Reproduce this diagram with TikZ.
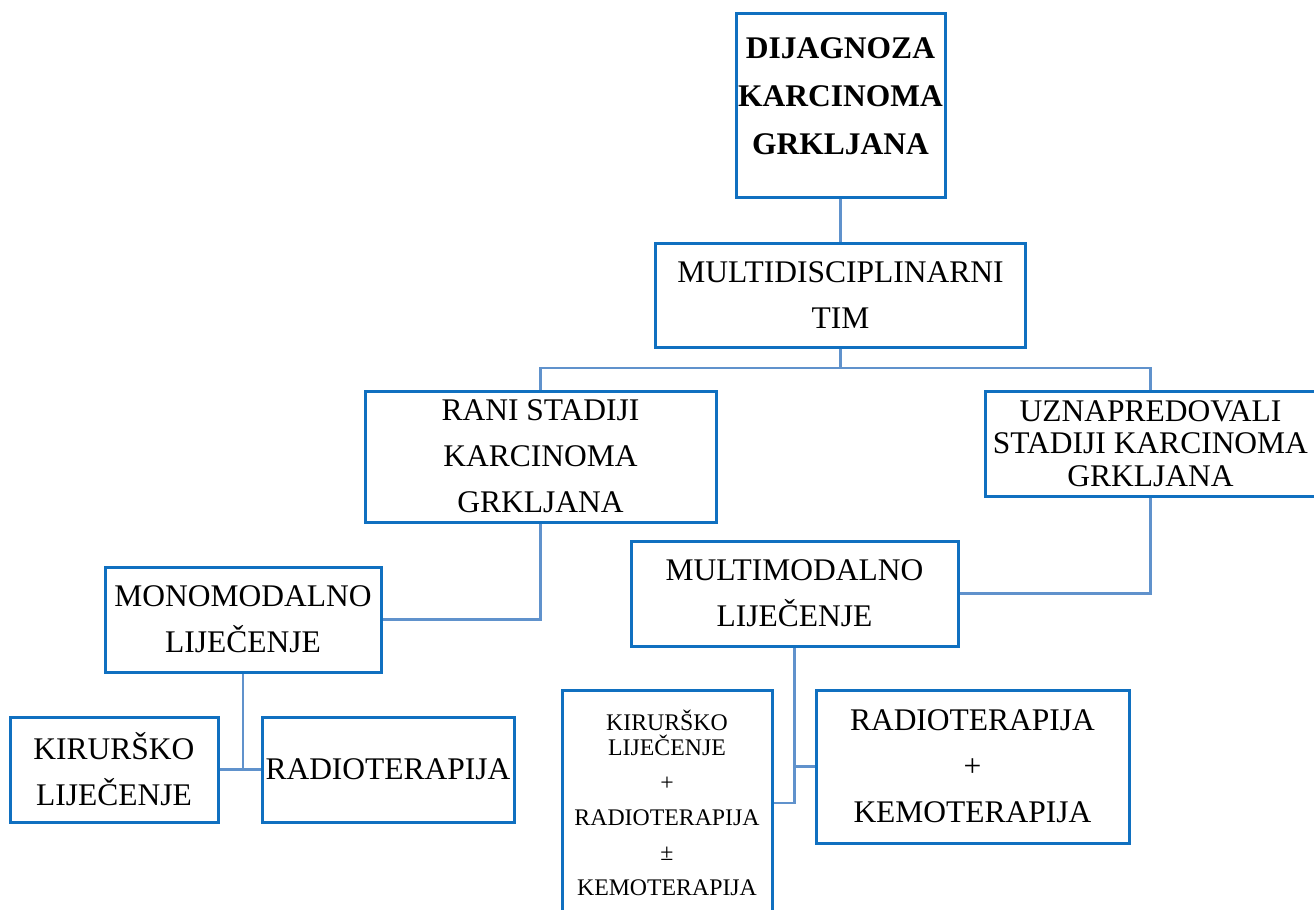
\documentclass[tikz,border=0pt]{standalone}
\usepackage{fontspec}
\setmainfont{Liberation Serif}
\usepackage{tikz}
\usetikzlibrary{positioning}
\definecolor{boxblue}{RGB}{16,112,192}
\definecolor{lineblue}{RGB}{96,146,204}

\begin{document}
\begin{tikzpicture}[x=0.5pt,y=-0.5pt,
		treebox/.style={rectangle, draw=boxblue, line width=1.5pt, fill=white, inner sep=0pt, align=center, font=\fontsize{15.75}{23}\selectfont},
		smallbox/.style={treebox, font=\fontsize{11.9}{12.5}\selectfont},
		link/.style={draw=lineblue, line width=1.3pt}
		]
		\clip (0,0) rectangle (1314,910);
		
		% Nodes
		\node[treebox, font=\bfseries\fontsize{15.75}{24}\selectfont, minimum width=104.5pt, minimum height=92pt] (diag) at (840.5,105) {DIJAGNOZA\\KARCINOMA\\GRKLJANA\rule[-8.5pt]{0pt}{0pt}};
		\node[treebox, minimum width=185pt, minimum height=52pt] (tim) [below=21.5pt of diag] {MULTIDISCIPLINARNI\\TIM};
		\node[treebox, minimum width=175.5pt, minimum height=65.5pt] (rani) at (540.5,456.5) {RANI STADIJI\\KARCINOMA\\GRKLJANA};
		\node[treebox, font=\fontsize{15.75}{16.25}\selectfont, minimum width=165.5pt, minimum height=52.5pt] (uzn) at (1150.5,443.5) {UZNAPREDOVALI\\STADIJI KARCINOMA\\GRKLJANA};
		\node[treebox, minimum width=138pt, minimum height=52.5pt] (mono) at (243,619.5) {MONOMODALNO\\LIJEČENJE};
		\node[treebox, minimum width=163.5pt, minimum height=52.5pt] (multi) at (794.5,593.5) {MULTIMODALNO\\LIJEČENJE};
		\node[treebox, minimum width=104pt, minimum height=52.5pt] (kir) at (114,769.5) {KIRURŠKO\\LIJEČENJE};
		\node[treebox, minimum width=126pt, minimum height=52.5pt] (radio) [right=20.5pt of kir] {RADIOTERAPIJA};
		\node[smallbox, minimum width=105pt, minimum height=113pt] (kombi) at (667,803) {KIRURŠKO\\LIJEČENJE\\[5pt]+\\[5pt]RADIOTERAPIJA\\[5pt]±\\[5pt]KEMOTERAPIJA};
		\node[treebox, minimum width=156.5pt, minimum height=76.5pt] (radkem) at (972.5,766.5) {RADIOTERAPIJA\\+\\KEMOTERAPIJA};
		
		% Links
		\coordinate (split) at (840.5,368);
		\draw[link] (diag) -- (tim);
		\draw[link] (tim) -- (split);
		\draw[link] (split) -| (rani);
		\draw[link] (split) -| (uzn);
		\draw[link] (rani) |- (mono);
		\draw[link] (uzn) |- (multi);
		
		% Therapy branches
		\draw[link] (mono) -- (mono |- kir);
		\draw[link] (kir) -- (radio);
		\draw[link] (multi) |- (kombi);
		\draw[link] (multi |- radkem) -- (radkem);
	\end{tikzpicture}
\end{document}
